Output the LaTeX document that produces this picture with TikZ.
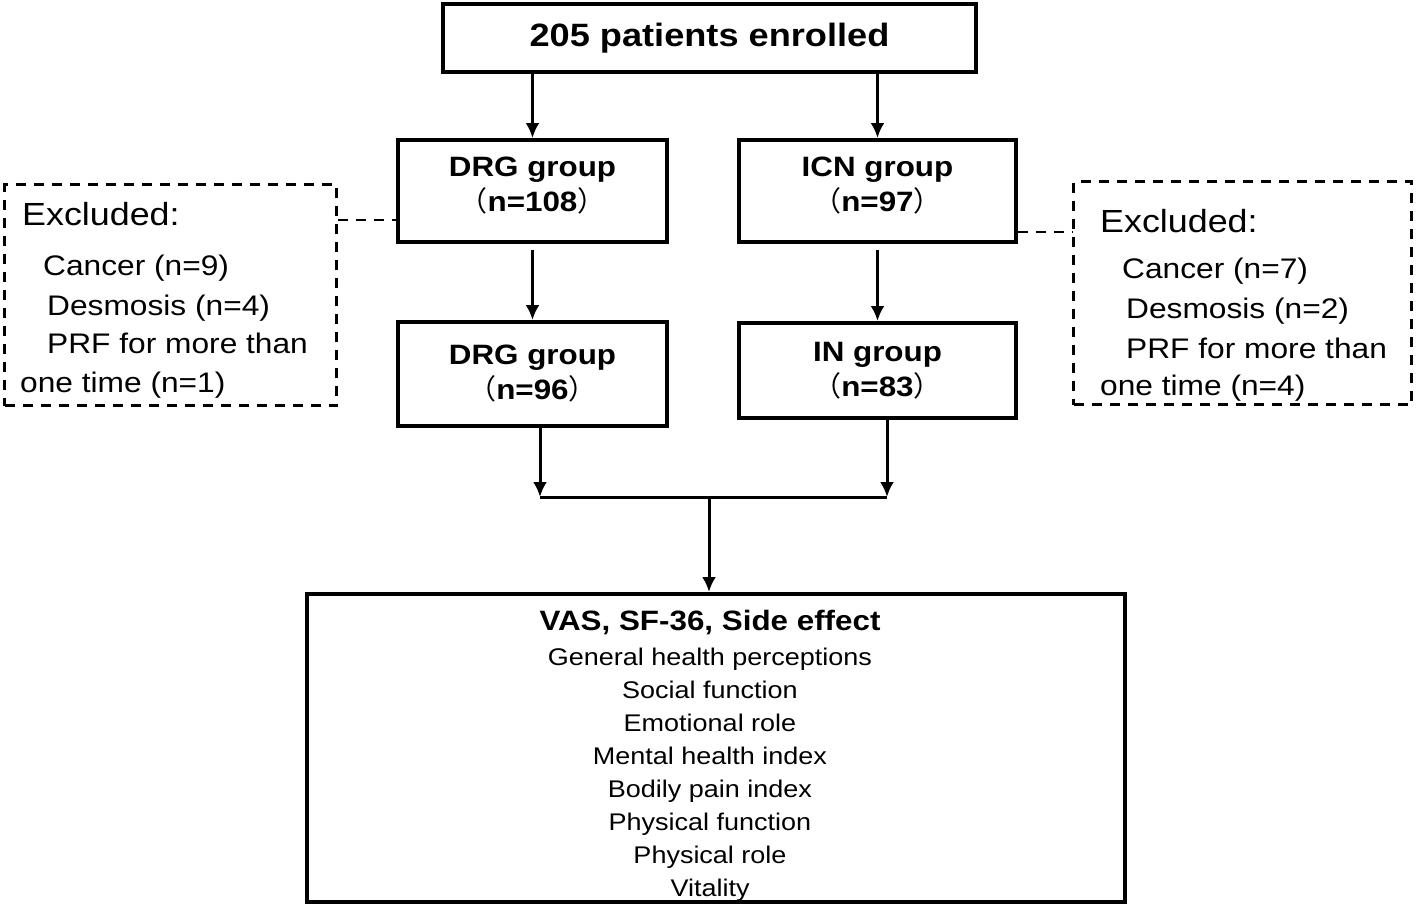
\documentclass[tikz,border=0pt]{standalone}
\usepackage{fontspec}
\setmainfont[FakeStretch=1.12]{Liberation Sans}
\newfontfamily\cjk{Noto Sans CJK SC}
\usetikzlibrary{arrows.meta}

\tikzset{
  box/.style={draw, line width=4pt, align=center, inner sep=0pt,
    font=\fontsize{28}{35}\selectfont\bfseries},
  exbox/.style={draw, dash pattern=on 10pt off 8pt, line width=2.8pt, inner sep=0pt},
  exhead/.style={anchor=base west, inner sep=0pt, font=\fontsize{32}{39}\selectfont},
  exitem/.style={anchor=base west, inner sep=0pt, font=\fontsize{28.3}{39}\selectfont},
  arr/.style={-{Latex[length=15pt,width=14pt]}, line width=3pt},
  dline/.style={dash pattern=on 10pt off 8pt, line width=2.8pt}
}
\newcommand{\lpar}{{\cjk\mdseries （}}
\newcommand{\rpar}{{\cjk\mdseries ）}}

\begin{document}
\begin{tikzpicture}[x=1pt,y=-1pt]
	\useasboundingbox (0,0) rectangle (1416,910);
	
	\node[box, minimum width=533pt, minimum height=68pt,
	  font=\fontsize{32.3}{40}\selectfont\bfseries] (enrolled) at (709.5,38) {205 patients enrolled};
	
	\node[box, minimum width=269pt, minimum height=102pt] (drgA) at (532.5,191)
	  {DRG group\\\lpar n=108\rpar\rule[-14pt]{0pt}{1pt}};
	\node[box, minimum width=277pt, minimum height=102pt] (icn) at (877.5,191)
	  {ICN group\\\lpar n=97\rpar\rule[-14pt]{0pt}{1pt}};
	\node[box, minimum width=269pt, minimum height=104pt] (drgB) at (532.5,374) {DRG group\\\lpar n=96\rpar};
	\node[box, minimum width=277pt, minimum height=95pt] (inb) at (877.5,370.5) {IN group\\\lpar n=83\rpar};
	
	% excluded, left side
	\node[exbox, minimum width=332pt, minimum height=221pt] (exL) at (170.5,295) {};
	\node[exhead] (exL0) at (22,225) {Excluded:};
	\node[exitem] (exL1) at (43,275) {Cancer (n=9)};
	\node[exitem] (exL2) at (47,315) {Desmosis (n=4)};
	\node[exitem] (exL3) at (47,353) {PRF for more than};
	\node[exitem] (exL4) at (20,392) {one time (n=1)};
	
	% excluded, right side
	\node[exbox, minimum width=338pt, minimum height=223pt] (exR) at (1242.5,293) {};
	\node[exhead] (exR0) at (1100,232) {Excluded:};
	\node[exitem] (exR1) at (1122,278) {Cancer (n=7)};
	\node[exitem] (exR2) at (1126,318) {Desmosis (n=2)};
	\node[exitem] (exR3) at (1126,358) {PRF for more than};
	\node[exitem] (exR4) at (1100,395) {one time (n=4)};
	
	% outcome box and its list
	\node[box, minimum width=818pt, minimum height=308pt] (outcome) at (716,748) {};
	\node[align=center, inner sep=0pt, font=\fontsize{24.1}{33}\selectfont] (outlist) at (710,756)
	  {{\fontsize{28}{35}\selectfont\bfseries VAS, SF-36, Side effect}\\[2pt]
	   General health perceptions\\
	   Social function\\
	   Emotional role\\
	   Mental health index\\
	   Bodily pain index\\
	   Physical function\\
	   Physical role\\
	   Vitality};
	
	\coordinate (dl) at (0,220);
	\coordinate (dr) at (0,232);
	\coordinate (jL) at (540,497);
	\coordinate (jR) at (887,497);
	\coordinate (jM) at (709,497);
	
	\draw[arr] (enrolled.south -| drgA) -- (drgA);
	\draw[arr] (enrolled.south -| icn) -- (icn);
	\draw[arr] ([yshift=-6pt]drgA.south) -- (drgB);
	\draw[arr] ([yshift=-6pt]icn.south) -- (inb);
	\draw[arr] (drgB.south -| jL) -- (jL);
	\draw[arr] (inb.south -| jR) -- (jR);
	\draw[line width=3pt] (jL) -- (jR);
	\draw[arr] (jM) -- (jM |- outcome.north);
	
	\draw[dline] (exL.east |- dl) -- (drgA.west |- dl);
	\draw[dline] (icn.east |- dr) -- (exR.west |- dr);
\end{tikzpicture}
\end{document}
